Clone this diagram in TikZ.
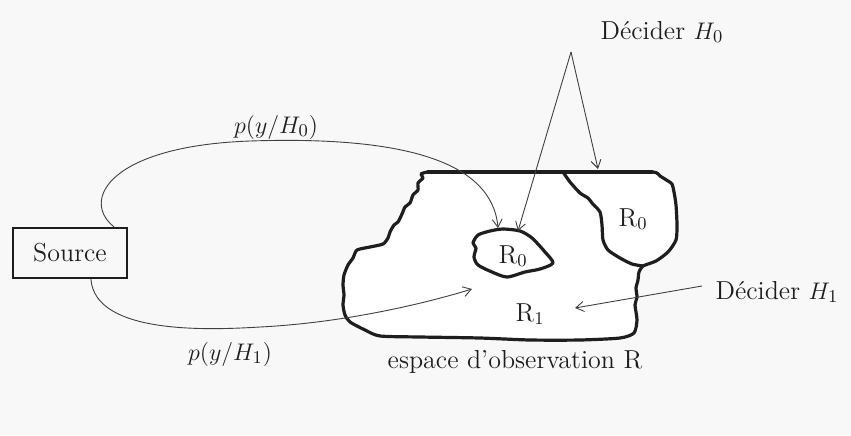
\documentclass[tikz,border=0pt]{standalone}
\usetikzlibrary{arrows.meta,calc}
\definecolor{bg}{RGB}{248,248,248}
\definecolor{ink}{RGB}{30,30,30}
\begin{document}
\begin{tikzpicture}[x=0.5pt,y=-0.5pt,
  txt/.style={inner sep=0pt,font=\fontsize{13}{15}\selectfont,text=ink},
  region/.style={line width=1.6pt,draw=ink,line join=round},
  conn/.style={line width=0.45pt,draw=ink!85,-{Straight Barb[length=4pt,width=5pt]}}]
\fill[bg] (0,0) rectangle (851,435);
\useasboundingbox (0,0) rectangle (851,435);
% observation space
\draw[region,fill=white] plot[smooth,tension=0.4] coordinates {
 (427,172) (495,172) (563,172) (610,172) (653,172) (660,176) (668,181) (672,184) (674,192) (676,205) (677,225)
 (676,240) (668,252) (656,261) (643,266) (639,272) (638,280) (636,288) (637,297) (635,305) (637,320) (634,333)
 (620,338) (580,340) (530,340) (480,338) (420,337) (380,336) (365,330) (350,322) (345,315)
 (343,305) (344,295) (343,285) (344,275) (348,265) (353,258) (357,250) (370,247) (383,244) (388,238) (390,232) (394,225) (398,222) (402,214)
 (405,207) (410,203) (413,195) (418,190) (418,183) (423,178) (421,174) (427,172)};
\draw[region] (427,172) -- (653,172);
\draw[region] plot[smooth,tension=0.4] coordinates {
 (563,172) (570,182) (580,193) (588,198) (592,203) (600,212) (602,225) (603,240) (608,250) (620,258) (632,264) (643,266)};
\draw[region] plot[smooth cycle,tension=0.45] coordinates {
 (478,235) (490,231) (503,229) (520,231) (532,238) (545,252) (553,263) (540,269) (525,272)
 (507,277) (492,272) (478,265) (474,257) (476,248) (473,243)};
% nodes
\node[draw=ink,line width=1.1pt,minimum width=57pt,minimum height=25pt,inner sep=0pt,
  font=\fontsize{13}{15}\selectfont,text=ink] (source) at (70,253) {Source};
\node[txt] (r0a) at (513,256) {R$_0$};
\node[txt] (r0b) at (633,219) {R$_0$};
\node[txt] (r1) at (530,314) {R$_1$};
\node[txt] (p0) at (276,127) {$p(y/H_0)$};
\node[txt] (p1) at (230,354) {$p(y/H_1)$};
\node[txt] (dh0) at (662,32) {Décider $H_0$};
\node[txt] (dh1) at (777,292) {Décider $H_1$};
\node[txt] (esp) at (515,362) {espace d'observation R};
% connector ends
\coordinate (s0) at ($(source.north east)+(-14,0)$);
\coordinate (s1) at ($(source.south west)+(79,0)$);
\coordinate (t0) at (498,228);
\coordinate (t1) at (472,289);
\coordinate (d0) at (571,52);
\coordinate (e0) at (598,169);
\coordinate (e1) at (518,231);
\coordinate (h1) at (702,286);
\coordinate (e2) at (575,308);
% connectors
\draw[conn] (s0) .. controls (80,200) and (110,146) .. (250,141)
  .. controls (400,136) and (492,160) .. (t0);
\draw[conn] (s1) .. controls (95,335) and (210,330) .. (260,327)
  .. controls (340,323) and (420,305) .. (t1);
\draw[conn] (d0) -- (e0);
\draw[conn] (d0) -- (e1);
\draw[conn] (h1) -- (e2);
\end{tikzpicture}
\end{document}
